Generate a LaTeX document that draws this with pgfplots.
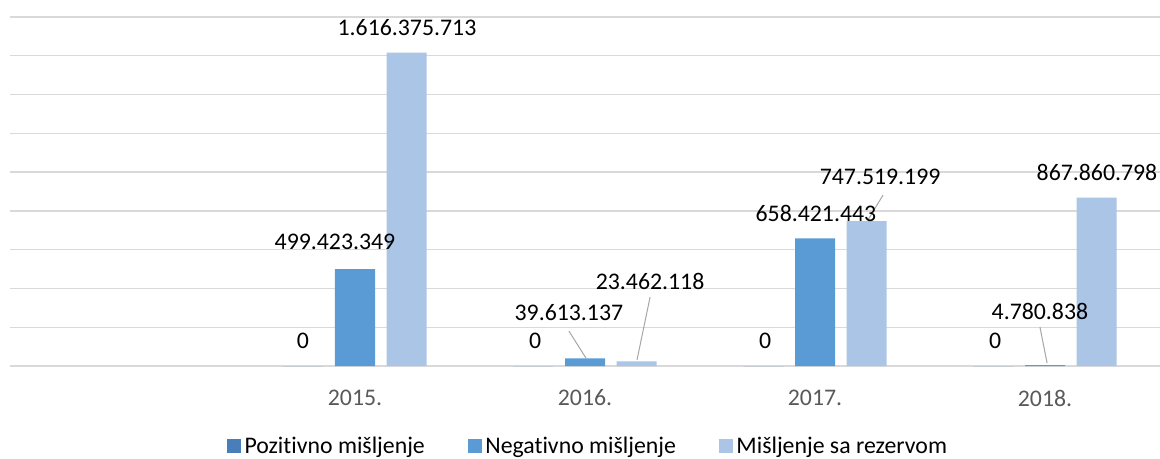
\documentclass[border=0pt]{standalone}
\usepackage{fontspec}
\setmainfont{Carlito}[Ligatures={NoCommon}]
\usepackage{pgfplots}
\pgfplotsset{compat=1.18}

\definecolor{cpoz}{HTML}{4A7EBB}
\definecolor{cneg}{HTML}{5B9BD5}
\definecolor{crez}{HTML}{ABC5E6}
\definecolor{cgrid}{HTML}{D9D9D9}
\definecolor{ctick}{HTML}{595959}
\definecolor{clead}{HTML}{A6A6A6}

\newcommand{\lf}{\fontsize{23.8}{28.5}\selectfont}

\begin{document}
\begin{tikzpicture}
\begin{axis}[
  scale only axis, width=1150pt, height=349pt,
  xmin=-0.5, xmax=4.5, ymin=0, ymax=1.8e9,
  ybar, bar width=0.174,
  axis line style={draw=none},
  ymajorgrids, grid style={cgrid, line width=1.3pt},
  ytick={0,2e8,4e8,6e8,8e8,10e8,12e8,14e8,16e8,18e8},
  yticklabels={}, scaled y ticks=false,
  xtick={0,1,2,3,4}, xticklabels={,2015.,2016.,2017.,2018.},
  major tick length=0pt,
  xticklabel style={font=\lf, text=ctick, anchor=center, yshift=-32pt},
  clip=false,
  legend style={draw=none, fill=none, inner sep=0pt, outer sep=0pt,
    at={(0.1887,0)}, anchor=west, yshift=-79.5pt, font=\lf,
    /tikz/every even column/.append style={column sep=39.5pt},
    nodes={inner sep=3.5pt}},
  legend columns=3,
  legend image code/.code={\fill[#1] (0pt,-7pt) rectangle (14pt,7pt);},
]
\addplot[fill=cpoz, draw=none, bar shift=-0.224] coordinates {(1,0) (2,0) (3,0) (4,0)};
\addlegendentry{Pozitivno mišljenje}
\addplot[fill=cneg, draw=none, bar shift=0] coordinates {(1,499423349) (2,39613137) (3,658421443) (4,4780838)};
\addlegendentry{Negativno mišljenje}
\addplot[fill=crez, draw=none, bar shift=0.224] coordinates {(1,1616375713) (2,23462118) (3,747519199) (4,867860798)};
\addlegendentry{Mišljenje sa rezervom}

% leader lines
\addplot[forget plot, sharp plot, clead, line width=1pt, fill=none, no marks] coordinates {(1.930,180.5e6) (2.004,41.3e6)};
\addplot[forget plot, sharp plot, clead, line width=1pt, fill=none, no marks] coordinates {(2.283,355.9e6) (2.226,30.9e6)};
\addplot[forget plot, sharp plot, clead, line width=1pt, fill=none, no marks] coordinates {(3.296,881.9e6) (3.230,753e6)};
\addplot[forget plot, sharp plot, clead, line width=1pt, fill=none, no marks] coordinates {(3.978,201.1e6) (4.009,15.5e6)};

% data labels
\node[font=\lf] at (axis cs:0.774,128.9e6) {0};
\node[font=\lf] at (axis cs:1.783,128.9e6) {0};
\node[font=\lf] at (axis cs:2.783,128.9e6) {0};
\node[font=\lf] at (axis cs:3.783,128.9e6) {0};
\node[font=\lf] at (axis cs:0.913,639.5e6) {499.423.349};
\node[font=\lf] at (axis cs:1.226,1743e6) {1.616.375.713};
\node[font=\lf] at (axis cs:1.930,273.4e6) {39.613.137};
\node[font=\lf] at (axis cs:2.283,438.4e6) {23.462.118};
\node[font=\lf] at (axis cs:3.004,789.1e6) {658.421.443};
\node[font=\lf] at (axis cs:3.283,974.8e6) {747.519.199};
\node[font=\lf] at (axis cs:3.978,283.7e6) {4.780.838};
\node[font=\lf] at (axis cs:4.226,1000.6e6) {867.860.798};

\coordinate (sw) at (rel axis cs:0,0);
\coordinate (ne) at (rel axis cs:1,1);
\end{axis}
\pgfresetboundingbox
\path[use as bounding box] ([shift={(-10pt,-92pt)}]sw) rectangle ([shift={(0pt,17pt)}]ne);
\end{tikzpicture}
\end{document}
